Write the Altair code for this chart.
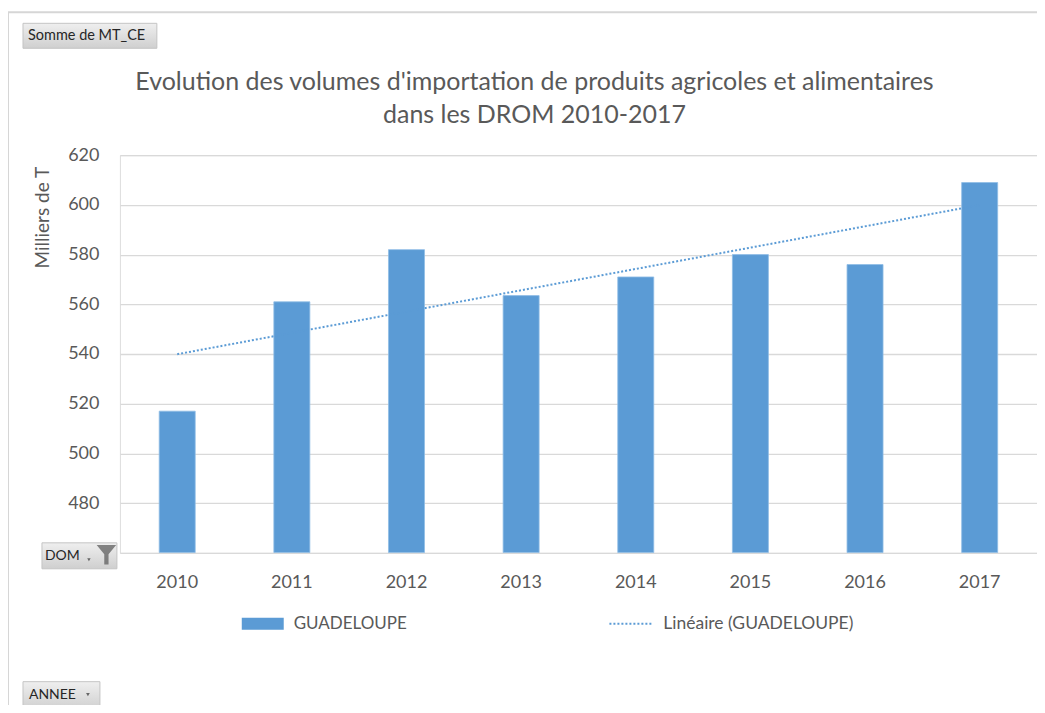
import altair as alt
import pandas as pd

years = ["2010", "2011", "2012", "2013", "2014", "2015", "2016", "2017"]
values = [517, 561, 582, 563.5, 571, 580, 576, 609]
series_name = "GUADELOUPE"
trend_name = "Linéaire (GUADELOUPE)"
title_lines = ["Evolution des volumes d'importation de produits agricoles et alimentaires",
               "dans les DROM 2010-2017"]
y_title = "Milliers de T"
y_ticks = [460, 480, 500, 520, 540, 560, 580, 600, 620]

df = pd.DataFrame({"year": years, "value": values, "year_num": [int(y) for y in years]})
one = pd.DataFrame({"k": [0]})

FONT = "Lato"
GRAY = "#595959"
BLUE = "#5b9bd5"

x_enc = alt.X("year:N", sort=years,
              scale=alt.Scale(paddingInner=0.686, paddingOuter=0.343),
              axis=alt.Axis(title=None, labelAngle=0, ticks=False, domain=False, grid=False,
                            labelPadding=21, labelFontSize=18, labelColor=GRAY, labelFont=FONT))
y_enc = alt.Y("value:Q",
              scale=alt.Scale(domain=[460, 620], nice=False, zero=False),
              axis=alt.Axis(title=y_title, values=y_ticks, ticks=False, domain=False,
                            labelExpr="datum.value == 460 ? '' : datum.label",
                            gridColor="#d9d9d9", gridWidth=1.3,
                            labelPadding=21, labelFontSize=18, labelColor=GRAY, labelFont=FONT,
                            titleFont=FONT, titleFontSize=19, titleColor=GRAY, titleFontWeight="normal",
                            titleX=-77, titleY=62, titleAngle=270,
                            titleAlign="center", titleBaseline="middle"))

bars = alt.Chart(df).mark_bar(color=BLUE, stroke="#8fbce6", strokeWidth=0.8, clip=True).encode(
    x=x_enc, y=y_enc, y2=alt.datum(460))

trend = alt.Chart(df).transform_regression(
    "year_num", "value", method="linear"
).transform_calculate(
    year="toString(datum.year_num)"
).mark_line(color=BLUE, strokeWidth=2, strokeDash=[2, 2]).encode(
    x=alt.X("year:N", sort=years), y="value:Q")

base = alt.Chart(one)

def rule(x1, x2, y1, y2, color, w, dash=None):
    kw = dict(color=color, strokeWidth=w)
    if dash:
        kw["strokeDash"] = dash
    return base.mark_rule(**kw).encode(x=alt.value(x1), x2=alt.value(x2), y=alt.value(y1), y2=alt.value(y2))

def text(t, x, y, size, color=GRAY, align="left"):
    return base.mark_text(text=t, font=FONT, fontSize=size, color=color, align=align,
                          baseline="middle").encode(x=alt.value(x), y=alt.value(y))

grad = alt.Gradient(gradient="linear", x1=0, x2=0, y1=0, y2=1,
                    stops=[alt.GradientStop(color="#efefef", offset=0),
                           alt.GradientStop(color="#cfcfcf", offset=1)])

def button(x1, x2, y1, y2):
    return base.mark_rect(color=grad, stroke="#c4c4c4", strokeWidth=1).encode(
        x=alt.value(x1), x2=alt.value(x2), y=alt.value(y1), y2=alt.value(y2))

frame = rule(-112, 925, -143, -143, "#d6d6d6", 2) + rule(-112, -112, -143, 560, "#d6d6d6", 2)

title = text(title_lines[0], 415, -73, 25, align="center") + text(title_lines[1], 415, -40, 25, align="center")

legend = (
    base.mark_rect(color=BLUE).encode(x=alt.value(122), x2=alt.value(164), y=alt.value(463), y2=alt.value(475))
    + text(series_name, 174, 469, 17)
    + rule(490, 533, 469, 469, BLUE, 2, [2, 2])
    + text(trend_name, 544, 469, 17.5)
)

funnel = "M -1 -1 L 1 -1 L 0.22 -0.05 L 0.22 1 L -0.22 1 L -0.22 -0.05 Z"

buttons = (
    button(-97, 37, -132, -107)
    + text("Somme de MT_CE", -92, -119.5, 14.5, color="#262626")
    + button(-78, -3, 388, 414)
    + text("DOM", -75, 401, 14, color="#262626")
    + base.mark_point(shape="triangle-down", filled=True, color="#333333", size=12).encode(
        x=alt.value(-31), y=alt.value(405))
    + base.mark_point(shape=funnel, filled=True, color="#555555", size=380).encode(
        x=alt.value(-13.5), y=alt.value(400))
    + button(-97, -20, 527, 555)
    + text("ANNEE", -91, 540, 14, color="#262626")
    + base.mark_point(shape="triangle-down", filled=True, color="#333333", size=14).encode(
        x=alt.value(-32), y=alt.value(540))
)

chart = alt.layer(frame, bars, trend, legend, buttons, title).properties(
    width=918, height=398,
    autosize=alt.AutoSizeParams(type="none"),
    padding={"left": 112, "top": 147, "right": 0, "bottom": 152},
).configure_view(stroke=None).configure(background="white")

chart.save("out.html", embed_options={"renderer": "svg", "actions": False})
